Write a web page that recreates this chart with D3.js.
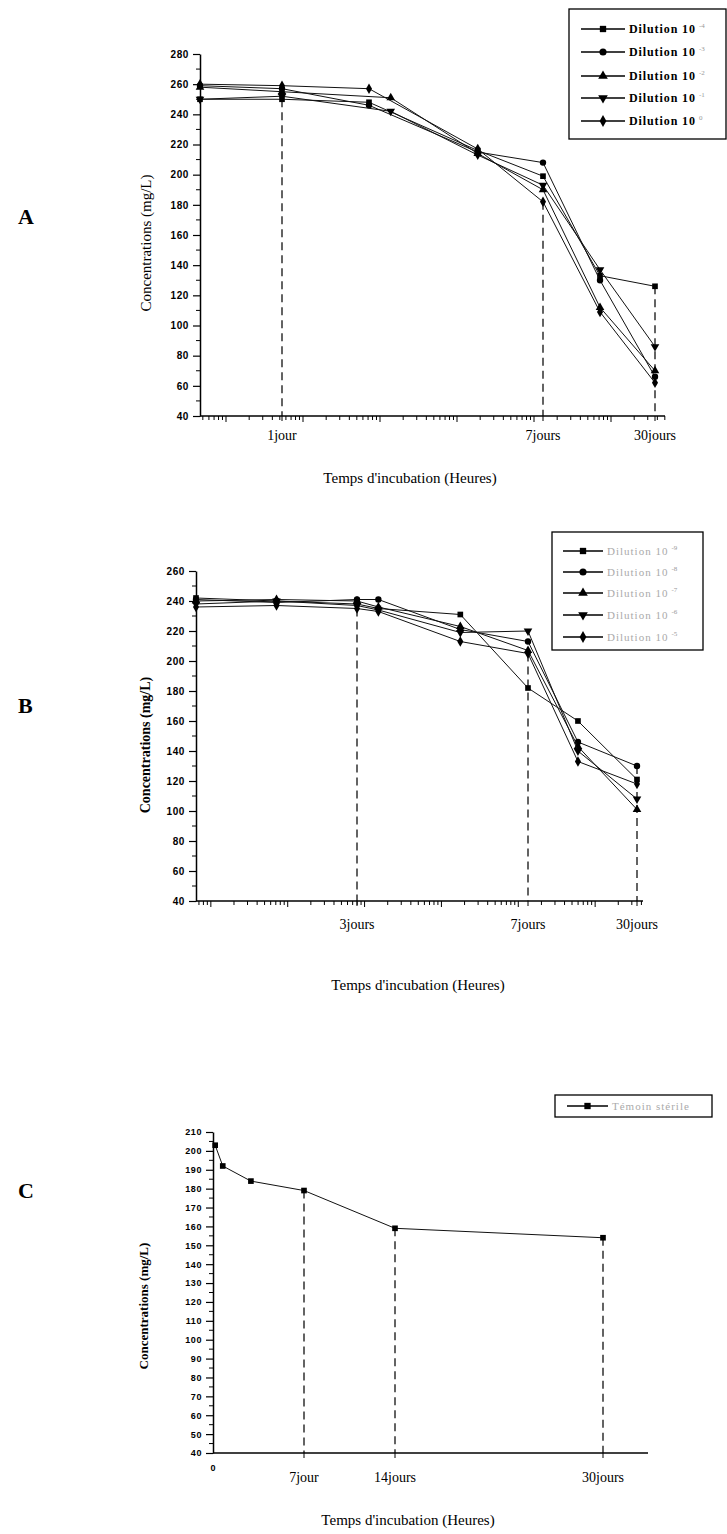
<!DOCTYPE html>
<html>
<head>
<meta charset="utf-8">
<script src="https://cdn.jsdelivr.net/npm/d3@7"></script>
<style>
  body { margin: 0; background: #fff; }
  text { font-family: "Liberation Serif", "DejaVu Serif", serif; }
</style>
</head>
<body>
<div id="fig"></div>
<script>
// ---------- data ----------

// Panel A : dilutions 10^-4 .. 10^0
var labelsA = ["-4", "-3", "-2", "-1", "0"];
var hoursA = [0, 24, 72, 132, 168, 449, 720];
var hoursA2 = [0, 24, 84, 132, 168, 449, 720];   // triangles sampled a bit later
var dilA4 = [250, 250, 248, 216, 199, 133, 126];
var dilA3 = [259, 257, 246, 215, 208, 130, 66];
var dilA2 = [258, 255, 251, 214, 190, 112, 70];
var dilA1 = [250, 252, 242, 213, 193, 137, 86];
var dilA0 = [260, 259, 257, 217, 182, 109, 62];

// Panel B : dilutions 10^-9 .. 10^-5
var labelsB = ["-9", "-8", "-7", "-6", "-5"];
var hoursB = [0, 36, 72, 84, 130, 168, 421, 720];
var dilB9 = [242, 240, 238, 235, 231, 182, 160, 121];
var dilB8 = [241, 239, 241, 241, 221, 213, 146, 130];
var dilB7 = [240, 241, 240, 236, 223, 207, 143, 101];
var dilB6 = [238, 240, 237, 234, 219, 220, 140, 108];
var dilB5 = [236, 237, 235, 233, 213, 205, 133, 118];

// Panel C : sterile control
var hoursC = [4, 18, 70, 168, 336, 720];
var temoinC = [203, 192, 184, 179, 159, 154];

// x tick labels (hours -> label)
var ticksA = [24, 168, 720], tickLabelsA = ["1jour", "7jours", "30jours"];
var ticksB = [72, 168, 720], tickLabelsB = ["3jours", "7jours", "30jours"];
var ticksC = [168, 336, 720], tickLabelsC = ["7jour", "14jours", "30jours"];

// dashed guides: hour and the value where the guide starts
var guideHoursA = [24, 168, 720], guideValA = [250, 182, 126];
var guideHoursB = [72, 168, 720], guideValB = [235, 205, 130];
var guideHoursC = [168, 336, 720], guideValC = [179, 159, 154];

// ---------- drawing ----------
var svg = d3.select("#fig").append("svg")
  .attr("width", 727)
  .attr("height", 1534);

svg.append("rect").attr("width", 727).attr("height", 1534).attr("fill", "#fff");

var shapes = [d3.symbolSquare, d3.symbolCircle, d3.symbolTriangle, "down", d3.symbolDiamond];

function marker(g, shape, x, y, size) {
  var sym = shape === "down" ? d3.symbolTriangle : shape;
  var p = g.append("path")
    .attr("d", d3.symbol().type(sym).size(size)())
    .attr("fill", "#000");
  if (shape === "down") p.attr("transform", "translate(" + x + "," + y + ") rotate(180)");
  else p.attr("transform", "translate(" + x + "," + y + ")");
}

function drawPanel(cfg) {
  var g = svg.append("g");
  var x = cfg.x, y = cfg.y;
  var y0 = y.range()[0];
  var xL = cfg.axisX[0], xR = cfg.axisX[1];

  // dashed guides
  cfg.guideHours.forEach(function(h, i) {
    g.append("line")
      .attr("x1", x(h)).attr("x2", x(h))
      .attr("y1", y(cfg.guideVal[i])).attr("y2", y0)
      .attr("stroke", "#222")
      .attr("stroke-width", 1.4)
      .attr("stroke-dasharray", "8,5");
  });

  // y axis
  g.append("g")
    .attr("transform", "translate(" + xL + ",0)")
    .call(d3.axisLeft(y).tickValues(d3.range(cfg.yMin, cfg.yMax + 1, cfg.yStep)).tickSize(7).tickSizeOuter(0))
    .call(function(a) {
      a.select(".domain").attr("stroke-width", 1.5);
      a.selectAll(".tick line").attr("stroke-width", 1.2);
      a.selectAll("text")
        .style("font-family", "Liberation Sans, Arial, sans-serif")
        .style("font-weight", "bold")
        .style("font-size", cfg.yFont + "px")
        .style("letter-spacing", "0.6px")
        .attr("x", -11);
    });
  // minor y ticks
  g.selectAll(".ym")
    .data(d3.range(cfg.yMin + cfg.yStep / 2, cfg.yMax, cfg.yStep))
    .enter().append("line")
    .attr("x1", xL - 4).attr("x2", xL)
    .attr("y1", d => y(d)).attr("y2", d => y(d))
    .attr("stroke", "#000");

  // x axis line
  g.append("line")
    .attr("x1", xL).attr("x2", xR)
    .attr("y1", y0).attr("y2", y0)
    .attr("stroke", "#000").attr("stroke-width", 1.5);

  // log-looking minor ticks on the x axis
  if (cfg.logTicks) {
    var lg = d3.scaleLog().domain([0.1, 1e6]).range(cfg.logTicks);
    g.selectAll(".xm")
      .data(lg.ticks().filter(d => lg(d) > xL + 2 && lg(d) <= xR))
      .enter().append("line")
      .attr("x1", d => lg(d)).attr("x2", d => lg(d))
      .attr("y1", y0)
      .attr("y2", d => y0 + (String(d).replace(/[0.]/g, "") === "1" ? 6 : 4))
      .attr("stroke", "#000");
  }

  // x tick labels
  cfg.ticks.forEach(function(h, i) {
    g.append("line")
      .attr("x1", x(h)).attr("x2", x(h))
      .attr("y1", y0).attr("y2", y0 + 5)
      .attr("stroke", "#000");
    g.append("text")
      .attr("x", x(h))
      .attr("y", y0 + cfg.tickDy)
      .attr("text-anchor", "middle")
      .style("font-size", "14px")
      .text(cfg.tickLabels[i]);
  });

  // series lines and markers
  var line = d3.line().x(d => x(d[0])).y(d => y(d[1]));
  cfg.series.forEach(function(s, i) {
    var pts = s.hours.map((h, j) => [h, s.values[j]]);
    g.append("path")
      .datum(pts)
      .attr("fill", "none")
      .attr("stroke", "#111")
      .attr("stroke-width", 1)
      .attr("d", line);
    pts.forEach(function(p) {
      marker(g, shapes[i], x(p[0]), y(p[1]), cfg.markSize);
    });
  });

  // axis titles
  g.append("text")
    .attr("transform", "translate(" + cfg.yTitle[0] + "," + cfg.yTitle[1] + ") rotate(-90)")
    .attr("text-anchor", "middle")
    .attr("dy", "0.35em")
    .style("font-size", cfg.yTitleFont + "px")
    .style("font-weight", cfg.yTitleBold ? "bold" : "normal")
    .text("Concentrations (mg/L)");

  g.append("text")
    .attr("x", cfg.xTitle[0])
    .attr("y", cfg.xTitle[1])
    .attr("text-anchor", "middle")
    .style("font-size", "15px")
    .text("Temps d'incubation (Heures)");

  // panel letter
  g.append("text")
    .attr("x", 18).attr("y", cfg.letterY)
    .style("font-size", "22px")
    .style("font-weight", "bold")
    .text(cfg.letter);

  // legend
  var L = cfg.legend;
  g.append("rect")
    .attr("x", L.box[0]).attr("y", L.box[1])
    .attr("width", L.box[2]).attr("height", L.box[3])
    .attr("fill", "#fff").attr("stroke", "#000").attr("stroke-width", 1.3);
  L.names.forEach(function(n, i) {
    var ly = L.rows[i];
    g.append("line")
      .attr("x1", L.line[0]).attr("x2", L.line[1])
      .attr("y1", ly).attr("y2", ly)
      .attr("stroke", "#000").attr("stroke-width", 1.3);
    marker(g, shapes[i], (L.line[0] + L.line[1]) / 2, ly, 40);
    var t = g.append("text")
      .attr("x", L.line[1] + 4)
      .attr("y", ly)
      .attr("dy", "0.35em")
      .style("font-size", L.font + "px")
      .style("font-weight", L.bold ? "bold" : "normal")
      .style("letter-spacing", L.spacing + "px")
      .attr("fill", L.color)
      .text(L.prefix);
    if (n !== null) {
      t.append("tspan")
        .attr("dy", "-0.7em")
        .attr("dx", "3")
        .style("font-size", "7px")
        .style("font-weight", "normal")
        .style("letter-spacing", "0px")
        .attr("fill", "#999")
        .text(n);
    }
  });
}

// Panel A
drawPanel({
  x: d3.scaleLinear().domain([0, 24, 168, 720]).range([200, 282, 543, 655]),
  y: d3.scaleLinear().domain([40, 280]).range([416, 54]),
  axisX: [200, 665],
  yMin: 40, yMax: 280, yStep: 20, yFont: 10,
  logTicks: [149, 688],
  ticks: ticksA, tickLabels: tickLabelsA, tickDy: 24,
  guideHours: guideHoursA, guideVal: guideValA,
  series: [
    { hours: hoursA, values: dilA4 },
    { hours: hoursA, values: dilA3 },
    { hours: hoursA2, values: dilA2 },
    { hours: hoursA2, values: dilA1 },
    { hours: hoursA, values: dilA0 }
  ],
  markSize: 32,
  yTitle: [146, 243], yTitleFont: 15, yTitleBold: false,
  xTitle: [410, 483],
  letter: "A", letterY: 224,
  legend: {
    box: [569, 9, 157, 130], rows: [29, 52, 76, 98, 121], line: [581, 625],
    names: labelsA, prefix: "Dilution 10", font: 12, bold: true, spacing: 0.9, color: "#000"
  }
});

// Panel B
drawPanel({
  x: d3.scaleLinear().domain([0, 72, 168, 720]).range([196, 357, 528, 637]),
  y: d3.scaleLinear().domain([40, 260]).range([901, 571]),
  axisX: [196, 643],
  yMin: 40, yMax: 260, yStep: 20, yFont: 10,
  logTicks: [134, 672],
  ticks: ticksB, tickLabels: tickLabelsB, tickDy: 28,
  guideHours: guideHoursB, guideVal: guideValB,
  series: [
    { hours: hoursB, values: dilB9 },
    { hours: hoursB, values: dilB8 },
    { hours: hoursB, values: dilB7 },
    { hours: hoursB, values: dilB6 },
    { hours: hoursB, values: dilB5 }
  ],
  markSize: 32,
  yTitle: [145, 745], yTitleFont: 14, yTitleBold: true,
  xTitle: [418, 990],
  letter: "B", letterY: 713,
  legend: {
    box: [552, 532, 151, 118], rows: [551, 572, 593, 615, 637], line: [563, 603],
    names: labelsB, prefix: "Dilution 10", font: 11, bold: false, spacing: 1, color: "#aaa"
  }
});

// Panel C
drawPanel({
  x: d3.scaleLinear().domain([0, 720]).range([213, 603]),
  y: d3.scaleLinear().domain([40, 210]).range([1453, 1132]),
  axisX: [213, 648],
  yMin: 40, yMax: 210, yStep: 10, yFont: 9,
  logTicks: null,
  ticks: ticksC, tickLabels: tickLabelsC, tickDy: 29,
  guideHours: guideHoursC, guideVal: guideValC,
  series: [
    { hours: hoursC, values: temoinC }
  ],
  markSize: 32,
  yTitle: [143, 1306], yTitleFont: 13, yTitleBold: true,
  xTitle: [408, 1525],
  letter: "C", letterY: 1198,
  legend: {
    box: [555, 1095, 157, 22], rows: [1106], line: [567, 608],
    names: [null], prefix: "Témoin stérile", font: 11, bold: false, spacing: 1, color: "#aaa"
  }
});

// "0" at the origin of panel C
svg.append("text")
  .attr("x", 213).attr("y", 1471)
  .attr("text-anchor", "middle")
  .style("font-family", "Liberation Sans, Arial, sans-serif")
  .style("font-weight", "bold")
  .style("font-size", "9px")
  .text("0");
</script>
</body>
</html>
